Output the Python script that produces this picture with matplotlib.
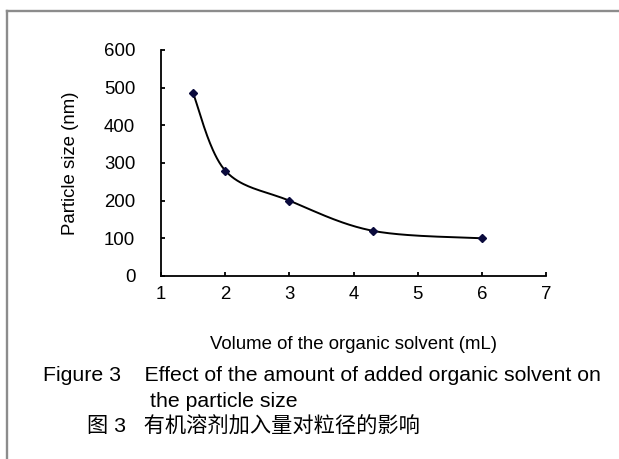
import numpy as np
import matplotlib
matplotlib.use('Agg')
import matplotlib.pyplot as plt
from matplotlib.lines import Line2D

plt.rcParams['font.family'] = ['Liberation Sans', 'Noto Sans CJK SC', 'DejaVu Sans']

# data
volume = [1.5, 2, 3, 4.3, 6]          # mL
size_nm = [485, 280, 200, 120, 100]   # nm
x_ticks = [1, 2, 3, 4, 5, 6, 7]
y_ticks = [0, 100, 200, 300, 400, 500, 600]

x_label = 'Volume of the organic solvent (mL)'
y_label = 'Particle size (nm)'
cap_en_1 = 'Figure 3    Effect of the amount of added organic solvent on'
cap_en_2 = 'the particle size'
cap_cn = '图 3   有机溶剂加入量对粒径的影响'


# excel-style smoothed line (catmull-rom bezier)
def smooth(xs, ys, n=40):
    p = np.column_stack([xs, ys]).astype(float)
    p = np.vstack([p[0], p, p[-1]])
    out = []
    for i in range(1, len(p) - 2):
        p0, p1, p2, p3 = p[i - 1], p[i], p[i + 1], p[i + 2]
        c1 = p1 + (p2 - p0) / 6
        c2 = p2 - (p3 - p1) / 6
        t = np.linspace(0, 1, n)[:, None]
        seg = ((1 - t) ** 3 * p1 + 3 * (1 - t) ** 2 * t * c1
               + 3 * (1 - t) * t ** 2 * c2 + t ** 3 * p2)
        out.append(seg)
    out = np.vstack(out)
    return out[:, 0], out[:, 1]


fig = plt.figure(figsize=(6.19, 4.59), dpi=100)
ax = fig.add_axes([0.2601, 0.3987, 0.622, 0.4924])

sx, sy = smooth(volume, size_nm)
ax.plot(sx, sy, color='black', lw=1.4)
ax.plot(volume, size_nm, ls='none', marker='D', ms=4.5, color='#0a0a3c')

ax.set_xlim(1, 7)
ax.set_ylim(0, 600)
ax.set_xticks(x_ticks)
ax.set_yticks(y_ticks)
ax.spines['top'].set_visible(False)
ax.spines['right'].set_visible(False)
for s in ['left', 'bottom']:
    ax.spines[s].set_linewidth(1.3)
ax.tick_params(axis='both', direction='in', length=3, width=1.3, labelsize=13.4)
ax.tick_params(axis='x', pad=7)
ax.tick_params(axis='y', pad=18.5)

ax.set_xlabel(x_label, fontsize=13.4, labelpad=24)
ax.set_ylabel(y_label, fontsize=13.4, labelpad=18)

# caption
fig.text(43 / 619, 1 - 381 / 459, cap_en_1, fontsize=15.3, va='baseline')
fig.text(150 / 619, 1 - 407 / 459, cap_en_2, fontsize=15.3, va='baseline')
fig.text(87 / 619, 1 - 433 / 459, cap_cn, fontsize=15.3, va='baseline')

# grey frame round the figure
fig.add_artist(Line2D([7 / 619, 1], [1 - 11 / 459] * 2, transform=fig.transFigure,
                      color='#8c8c8c', lw=1.7))
fig.add_artist(Line2D([7 / 619] * 2, [0, 1 - 11 / 459], transform=fig.transFigure,
                      color='#8c8c8c', lw=1.7))

fig.savefig('out.png', dpi=100)
